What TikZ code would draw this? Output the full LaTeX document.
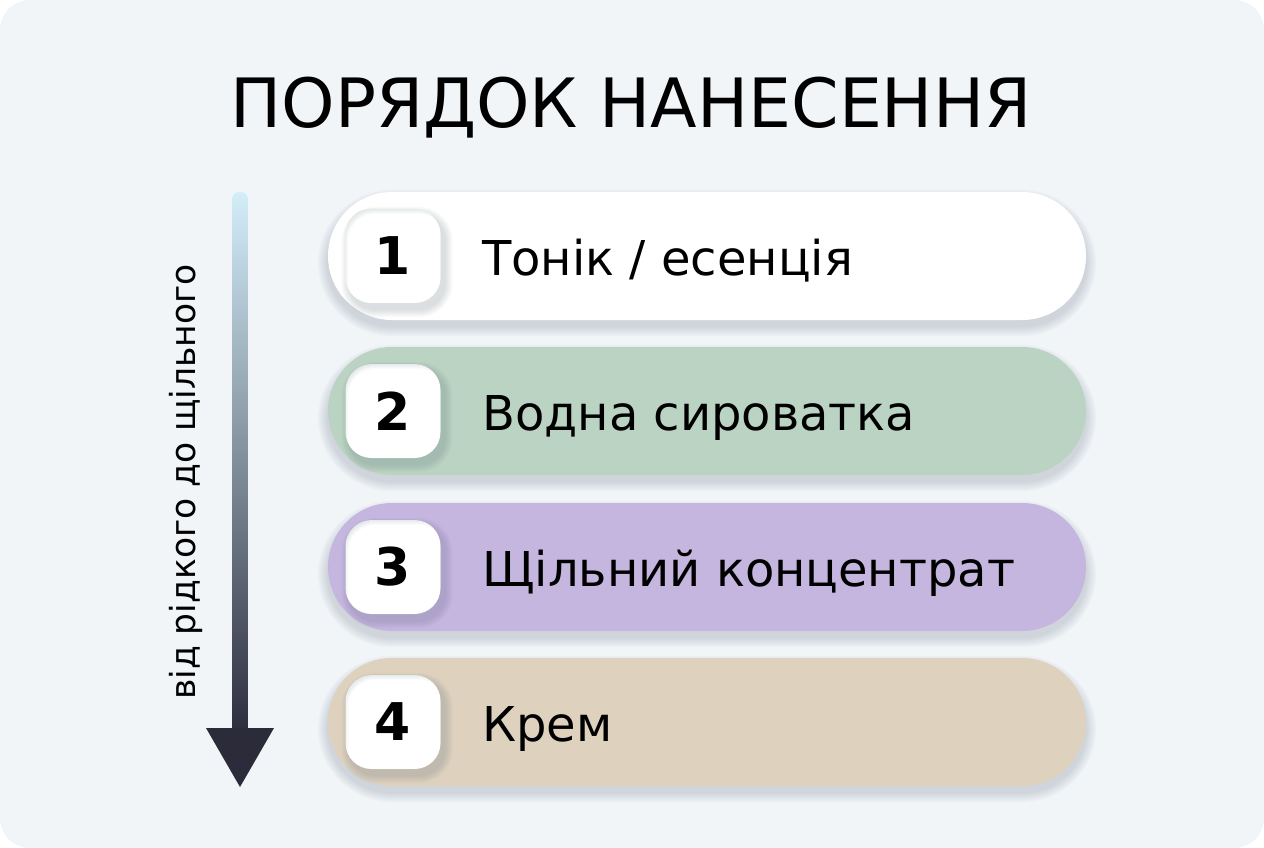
\documentclass[tikz,border=0pt]{standalone}
\usepackage{fontspec}
\setmainfont{DejaVu Sans}
\usetikzlibrary{calc}
\definecolor{bg}{HTML}{F1F5F8}
\definecolor{pgreen}{HTML}{BBD3C3}
\definecolor{ppurple}{HTML}{C5B6DF}
\definecolor{pbeige}{HTML}{DED1BE}
\definecolor{arrtop}{HTML}{D3EEF9}
\definecolor{arrbot}{HTML}{2B2B3A}
\definecolor{shcol}{HTML}{4A5568}
\pgfdeclarelayer{bgl}
\pgfdeclarelayer{shl}
\pgfsetlayers{bgl,shl,main}
\tikzset{
  pill/.style={rounded corners=64pt, minimum width=758pt, minimum height=128pt, inner sep=0pt},
  numbox/.style={fill=white, rounded corners=26pt, minimum width=95pt, minimum height=94pt, inner sep=0pt,
    font=\fontsize{52}{52}\selectfont\bfseries},
  lbl/.style={anchor=base west, inner sep=0pt, font=\fontsize{48}{48}\selectfont, text=black},
}
\newcommand\softshadow[4]{% node, radius, xoff, yoff
  \begin{pgfonlayer}{shl}
  \foreach \i in {1,...,10}{
    \fill[shcol, opacity=0.018, rounded corners=#2+\i*1pt]
      ($(#1.north west)+(#3-\i,#4-\i+2)$) rectangle ($(#1.south east)+(#3+\i,#4+\i)$);
  }
  \end{pgfonlayer}}
\begin{document}
\begin{tikzpicture}[x=1pt,y=-1pt]
\useasboundingbox (0,0) rectangle (1264,848);
\begin{pgfonlayer}{bgl}
\fill[white] (0,0) rectangle (1264,848);
\fill[bg, rounded corners=30pt] (0,0) rectangle (1264,848);
\end{pgfonlayer}

\node[anchor=base, inner sep=0pt, font=\fontsize{68}{68}\selectfont, text=black] (title) at (631,128) {ПОРЯДОК НАНЕСЕННЯ};

% gradient arrow
\shade[top color=arrtop, bottom color=arrbot, rounded corners=7pt] (232,192) rectangle (248,740);
\coordinate (atip) at (240,787);
\fill[arrbot] (206,728) -- (274,728) -- (atip) -- cycle;
\node[rotate=90, font=\fontsize{34.5}{34.5}\selectfont, text=black] (side) at (186,482) {від рідкого до щільного};

% pills
\node[pill, fill=white] (p1) at (707,256) {};
\node[pill, fill=pgreen] (p2) at (707,411) {};
\node[pill, fill=ppurple] (p3) at (707,567) {};
\node[pill, fill=pbeige] (p4) at (707,722) {};
\foreach \p in {p1,p2,p3,p4}{\softshadow{\p}{64pt}{0}{6}}

\node[numbox] (n1) at (393,256) {1};
\node[numbox] (n2) at (393,411) {2};
\node[numbox] (n3) at (393,567) {3};
\node[numbox] (n4) at (393,722) {4};

\node[lbl] (l1) at (482,275) {Тонік / есенція};
\node[lbl] (l2) at (482,430) {Водна сироватка};
\node[lbl] (l3) at (482,586) {Щільний концентрат};
\node[lbl] (l4) at (482,741) {Крем};

% number box shadows (outside the boxes only)
\foreach \n in {n1,n2,n3,n4}{
  \foreach \i in {1,...,8}{
    \fill[shcol, opacity=0.025, rounded corners=26pt+\i*1pt, even odd rule]
      ($(\n.north west)+(4-\i,6-\i)$) rectangle ($(\n.south east)+(4+\i,6+\i)$)
      [rounded corners=26pt] (\n.north west) rectangle (\n.south east);
  }
}
\end{tikzpicture}
\end{document}
